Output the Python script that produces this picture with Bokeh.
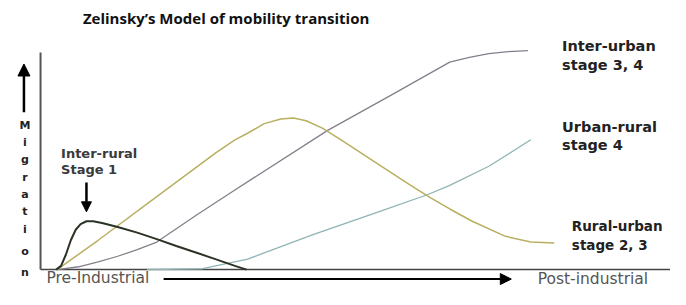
from bokeh.plotting import figure
from bokeh.models import Range1d, Arrow, NormalHead
from bokeh.embed import file_html
from bokeh.resources import INLINE
from bokeh.core.properties import value

# ---- data (x: 0 = pre-industrial .. 100 = post-industrial, y: migration 0..100) ----
inter_rural_x = [3.2, 4.2, 5.2, 6.2, 7.2, 8.2, 9.4, 10.8, 12.8, 15.8, 19.8, 23.8, 27.8, 31.8, 35.8, 39.8, 42.2]
inter_rural_y = [0, 1.7, 6.9, 13.4, 18.2, 20.8, 22.1, 22.1, 21.2, 19.5, 16.9, 13.9, 10.8, 7.8, 4.8, 1.7, 0]

rural_urban_x = [3.4, 11.8, 23.8, 35.8, 39.8, 42.4, 45.8, 49.2, 51.8, 54.4, 57.8, 62.4, 69.2, 75.8, 79.8, 83.8, 88.4, 95.2, 100.4, 105.2]
rural_urban_y = [0, 13.4, 33.3, 53.2, 59.3, 62.3, 66.7, 68.8, 69.3, 68.0, 64.5, 58.0, 48.1, 38.5, 32.9, 27.7, 22.1, 15.2, 12.6, 12.1]

inter_urban_x = [3.4, 7.8, 11.8, 15.8, 19.8, 23.8, 31.8, 39.8, 58.8, 71.8, 83.8, 87.8, 91.8, 95.8, 99.8]
inter_urban_y = [0, 1.3, 3.5, 6.1, 9.1, 12.6, 24.7, 36.4, 63.6, 79.7, 94.8, 97.0, 98.7, 99.6, 100.0]

urban_rural_x = [21.8, 33.2, 42.4, 55.8, 69.2, 79.2, 83.8, 91.8, 100.4]
urban_rural_y = [0, 0.4, 4.8, 16.0, 26.4, 34.2, 38.5, 47.2, 59.3]

title_text = "Zelinsky\u2019s Model of mobility transition"
axis_letters = list("Migration")
label_inter_urban = ["Inter-urban", "stage 3, 4"]
label_urban_rural = ["Urban-rural", "stage 4"]
label_rural_urban = ["Rural-urban", "stage 2, 3"]
label_inter_rural = ["Inter-rural", "Stage 1"]
x_start_label = "Pre-Industrial"
x_end_label = "Post-industrial"

# ---- layout helpers (reference-picture pixel -> data units) ----
W, H = 670, 289
REF_W, REF_H = 686, 305
X0_PX, Y0_PX, XS, YS = 41.0, 284.0, 5.0, 2.31
def fx(px):
    return (px - X0_PX) / XS
def fy(py):
    return (Y0_PX - py) / YS

p = figure(width=W, height=H,
           x_range=Range1d(fx(0), fx(REF_W)), y_range=Range1d(fy(REF_H), fy(0)),
           output_backend="svg", toolbar_location=None,
           x_axis_location=None, y_axis_location=None, min_border=0)
p.grid.visible = False
p.outline_line_color = None

SANS = value("DejaVu Sans")
TITLE_FONT = value("Open Sans")

# axes lines
p.segment(x0=[fx(41)], y0=[fy(55)], x1=[fx(41)], y1=[0], line_color="#555555", line_width=2)
p.segment(x0=[0], y0=[0], x1=[fx(REF_W)], y1=[0], line_color="#444444", line_width=1.5)

# curves
p.line(urban_rural_x, urban_rural_y, line_color="#8fb4b4", line_width=1.3)
p.line(inter_urban_x, inter_urban_y, line_color="#857f8c", line_width=1.3)
p.line(rural_urban_x, rural_urban_y, line_color="#b8b060", line_width=1.5)
p.line(inter_rural_x, inter_rural_y, line_color="#2b3327", line_width=2)

# title
p.text(x=[fx(231)], y=[fy(18)], text=[title_text], text_font=TITLE_FONT, text_font_style="bold",
       text_font_size="15px", text_align="center", text_baseline="middle", text_color="#111111")

# vertical axis label letters
letter_py = [132, 150, 168, 187, 205, 223, 242, 265, 287]
p.text(x=[fx(25)] * len(axis_letters), y=[fy(v) for v in letter_py], text=axis_letters,
       text_font=SANS, text_font_style="bold", text_font_size="11px",
       text_align="center", text_baseline="middle", text_color="#222222")

# arrows
p.add_layout(Arrow(end=NormalHead(size=12, fill_color="black", line_color="black"),
                   x_start=fx(24), y_start=fy(118), x_end=fx(24), y_end=fy(67),
                   line_width=2.5, line_color="black"))
p.add_layout(Arrow(end=NormalHead(size=10, fill_color="black", line_color="black"),
                   x_start=fx(88), y_start=fy(192), x_end=fx(88), y_end=fy(223),
                   line_width=2.5, line_color="black"))
p.add_layout(Arrow(end=NormalHead(size=11, fill_color="black", line_color="black"),
                   x_start=fx(167), y_start=fy(294), x_end=fx(523), y_end=fy(294),
                   line_width=2, line_color="black"))

def two_lines(lines, px, py0, gap, size, color):
    p.text(x=[fx(px)] * 2, y=[fy(py0), fy(py0 + gap)], text=lines, text_font=SANS,
           text_font_style="bold", text_font_size=size,
           text_align="left", text_baseline="middle", text_color=color)

two_lines(label_inter_urban, 575, 48, 20, "14.5px", "#222222")
two_lines(label_urban_rural, 575, 133, 20, "14.5px", "#222222")
two_lines(label_rural_urban, 585, 238, 20, "13.5px", "#222222")
two_lines(label_inter_rural, 62, 161, 17, "13px", "#3a3a3a")

p.text(x=[fx(47)], y=[fy(293)], text=[x_start_label], text_font=SANS, text_font_size="15.5px",
       text_align="left", text_baseline="middle", text_color="#555555")
p.text(x=[fx(550)], y=[fy(294)], text=[x_end_label], text_font=SANS, text_font_size="15.5px",
       text_align="left", text_baseline="middle", text_color="#555555")

open("out.html", "w").write(file_html(p, INLINE))
